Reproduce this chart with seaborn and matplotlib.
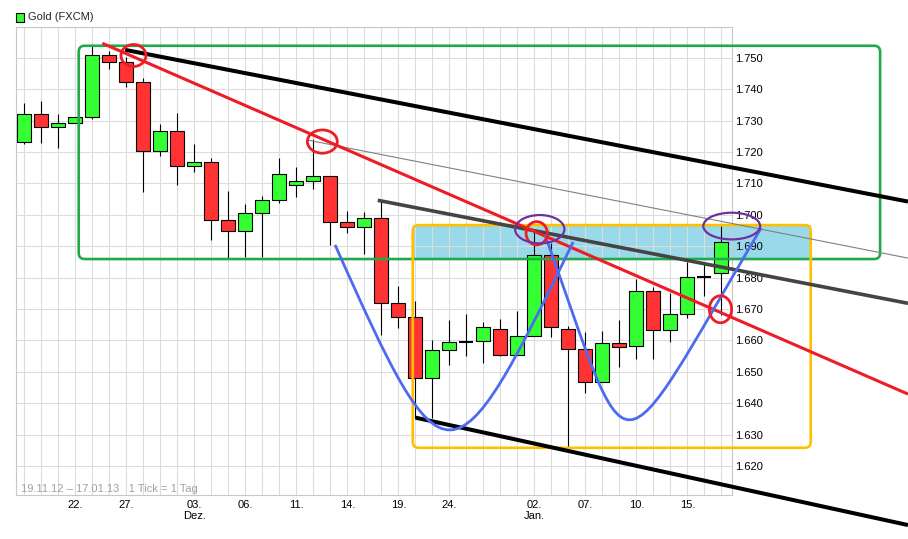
import matplotlib
matplotlib.use("Agg")
import matplotlib.pyplot as plt
import seaborn as sns
import numpy as np
import pandas as pd
from matplotlib.patches import FancyBboxPatch, Ellipse, PathPatch, Rectangle
from matplotlib.path import Path

# ---------------- data ----------------
dates = ["19.11", "20.11", "21.11", "22.11", "23.11", "26.11", "27.11", "28.11", "29.11", "30.11",
         "03.12", "04.12", "05.12", "06.12", "07.12", "10.12", "11.12", "12.12", "13.12", "14.12",
         "17.12", "18.12", "19.12", "20.12", "21.12", "24.12", "26.12", "27.12", "28.12", "31.12",
         "02.01", "03.01", "04.01", "07.01", "08.01", "09.01", "10.01", "11.01", "14.01", "15.01",
         "16.01", "17.01"]
opens = [1.7231, 1.7320, 1.7278, 1.7291, 1.7310, 1.7508, 1.7485, 1.7422, 1.7202, 1.7266,
         1.7154, 1.7167, 1.6982, 1.6947, 1.7005, 1.7046, 1.7094, 1.7106, 1.7122, 1.6976,
         1.6960, 1.6989, 1.6718, 1.6673, 1.6479, 1.6568, 1.6596, 1.6597, 1.6635, 1.6552,
         1.6613, 1.6871, 1.6635, 1.6572, 1.6467, 1.6593, 1.6582, 1.6756, 1.6633, 1.6683,
         1.6802, 1.6815]
highs = [1.7356, 1.7362, 1.7321, 1.7310, 1.7541, 1.7521, 1.7503, 1.7434, 1.7288, 1.7324,
         1.7225, 1.7181, 1.7076, 1.7034, 1.7060, 1.7181, 1.7152, 1.7241, 1.7122, 1.7012,
         1.7008, 1.7047, 1.6773, 1.6725, 1.6601, 1.6665, 1.6684, 1.6659, 1.6668, 1.6693,
         1.6946, 1.6909, 1.6646, 1.6628, 1.6630, 1.6665, 1.6794, 1.6771, 1.6750, 1.6851,
         1.6851, 1.6964]
lows = [1.7224, 1.7229, 1.7213, 1.7291, 1.7306, 1.7463, 1.7408, 1.7073, 1.7188, 1.7096,
        1.7137, 1.6921, 1.6862, 1.6866, 1.6866, 1.7036, 1.7057, 1.7083, 1.6905, 1.6943,
        1.6876, 1.6617, 1.6640, 1.6352, 1.6352, 1.6522, 1.6551, 1.6529, 1.6550, 1.6552,
        1.6613, 1.6610, 1.6261, 1.6431, 1.6467, 1.6516, 1.6542, 1.6540, 1.6596, 1.6670,
        1.6741, 1.6681]
closes = [1.7320, 1.7278, 1.7291, 1.7310, 1.7508, 1.7485, 1.7422, 1.7202, 1.7266, 1.7154,
          1.7167, 1.6982, 1.6947, 1.7005, 1.7046, 1.7130, 1.7106, 1.7122, 1.6976, 1.6960,
          1.6989, 1.6718, 1.6673, 1.6479, 1.6568, 1.6594, 1.6596, 1.6642, 1.6552, 1.6613,
          1.6871, 1.6642, 1.6572, 1.6467, 1.6593, 1.6579, 1.6756, 1.6633, 1.6683, 1.6801,
          1.6802, 1.6912]

x_tick_pos = [3, 6, 10, 13, 16, 19, 22, 25, 30, 33, 36, 39]
x_tick_labels = ["22.", "27.", "03.\nDez.", "06.", "11.", "14.", "19.", "24.",
                 "02.\nJan.", "07.", "10.", "15."]
y_ticks = [1.62, 1.63, 1.64, 1.65, 1.66, 1.67, 1.68, 1.69, 1.70, 1.71, 1.72, 1.73, 1.74, 1.75]

# annotation drawings (x = trading-day index, y = price)
trend_black_top = ([5.93, 51.98], [1.7525, 1.7042])
trend_red = ([4.59, 51.98], [1.7546, 1.6429])
trend_darkgray = ([20.79, 51.98], [1.7046, 1.6718])
trend_thin = ([16.65, 51.98], [1.7238, 1.6862])
trend_black_bottom = ([23.01, 51.98], [1.6354, 1.6012])
green_box = (3.2, 1.6859, 50.34, 1.7538)
orange_box = (22.85, 1.6258, 46.26, 1.6967)
blue_zone = (22.85, 1.6859, 46.26, 1.6967)
curve_a = [(18.28, 1.6904), (24.75, 1.6117), (25.16, 1.6117), (32.28, 1.6913)]
curve_b = [(30.63, 1.6936), (35.84, 1.6147), (34.51, 1.6147), (43.34, 1.6958)]
red_circles = [(6.42, 1.7507, 1.47, 0.0070), (17.53, 1.7233, 1.76, 0.0074),
               (30.14, 1.6941, 1.25, 0.0074), (40.95, 1.6699, 1.31, 0.0086)]
purple_ellipses = [(30.32, 1.6954, 2.90, 0.0090), (41.61, 1.6964, 3.34, 0.0085)]

# ---------------- style ----------------
sns.set_style("white")
plt.rcParams['font.family'] = ['Liberation Sans', 'DejaVu Sans']

W, H = 908, 539
fig = plt.figure(figsize=(W / 100, H / 100), dpi=100)
ax = fig.add_axes([15.7 / W, 1 - 495 / H, (731.7 - 15.7) / W, (495 - 27.3) / H])

df = pd.DataFrame({"date": dates, "open": opens, "high": highs, "low": lows, "close": closes})
df["idx"] = np.arange(len(df))

GREEN = '#33FF33'
RED = '#FF3333'

# wicks
ax.vlines(df["idx"], df["low"], df["high"], color='black', lw=0.8, zorder=2)
# bodies
for _, r in df.iterrows():
    if abs(r["close"] - r["open"]) < 1e-6:
        ax.hlines(r["open"], r["idx"] - 0.42, r["idx"] + 0.42, color='black', lw=1.5, zorder=2.2)
        continue
    col = GREEN if r["close"] > r["open"] else RED
    ax.bar(r["idx"], abs(r["close"] - r["open"]), bottom=min(r["open"], r["close"]),
           width=0.82, color=col, edgecolor='black', linewidth=0.8, zorder=2.1)

aspect = (1 / 3140.8) / (1 / 17.0)

# blue zone fill
bx0, by0, bx1, by1 = blue_zone
ax.add_patch(Rectangle((bx0, by0), bx1 - bx0, by1 - by0, facecolor='#99D9EA',
                       edgecolor='none', zorder=0.3, clip_on=False))

# rounded boxes
for (x0, y0, x1, y1), col in [(green_box, '#22AA4A'), (orange_box, '#FFC000')]:
    ax.add_patch(FancyBboxPatch((x0, y0), x1 - x0, y1 - y0,
                                boxstyle="round,pad=0,rounding_size=0.35",
                                mutation_aspect=aspect, fill=False, edgecolor=col,
                                linewidth=1.9, zorder=3, clip_on=False))

# trend lines via seaborn
for (xs, ys), col, lw in [(trend_thin, '#808080', 0.8),
                          (trend_darkgray, '#444444', 2.6),
                          (trend_black_top, '#000000', 2.9),
                          (trend_black_bottom, '#000000', 2.9),
                          (trend_red, '#EE1C25', 2.2)]:
    sns.lineplot(x=xs, y=ys, ax=ax, color=col, lw=lw, clip_on=False, zorder=4,
                 solid_capstyle='butt')

# blue curves
for pts in [curve_a, curve_b]:
    path = Path(pts, [Path.MOVETO, Path.CURVE4, Path.CURVE4, Path.CURVE4])
    ax.add_patch(PathPatch(path, fill=False, edgecolor='#4D6BF0', lw=2.0, zorder=4.5,
                           clip_on=False))

for cx, cy, w, h in red_circles:
    ax.add_patch(Ellipse((cx, cy), w, h, fill=False, edgecolor='#EE1C25', lw=2.0,
                         zorder=5, clip_on=False))
for cx, cy, w, h in purple_ellipses:
    ax.add_patch(Ellipse((cx, cy), w, h, fill=False, edgecolor='#7030A0', lw=1.6,
                         zorder=5, clip_on=False))

# axes / grid
ax.set_xlim(-0.506, 41.61)
ax.set_ylim(1.61077, 1.75968)
ax.set_xticks(x_tick_pos)
ax.set_xticklabels(x_tick_labels)
ax.set_xticks(np.arange(len(df)), minor=True)
ax.set_yticks(y_ticks)
ax.set_yticklabels([f"{v:.3f}" for v in y_ticks])
ax.yaxis.tick_right()
ax.tick_params(axis='both', which='both', length=0, labelsize=8, colors='black')
ax.tick_params(axis='x', pad=3.5)
ax.tick_params(axis='y', pad=2.5)
ax.set_axisbelow(True)
ax.grid(True, which='both', color='#DCDCDC', lw=0.8)
for sp in ax.spines.values():
    sp.set_color('#C8C8C8')
    sp.set_linewidth(0.8)
ax.set_xlabel("")
ax.set_ylabel("")

# legend & info text
fig.add_artist(Rectangle((16 / W, 1 - 21.7 / H), 8 / W, 8.4 / H, transform=fig.transFigure,
                         facecolor=GREEN, edgecolor='black', lw=0.8))
fig.text(28.5 / W, 1 - 17.5 / H, "Gold (FXCM)", va='center', ha='left', fontsize=8)
fig.text(21 / W, 1 - 489 / H, "19.11.12 \u2013 17.01.13   1 Tick = 1 Tag", va='center',
         ha='left', fontsize=8, color='#A0A0A0')

fig.savefig("out.png", dpi=100)
